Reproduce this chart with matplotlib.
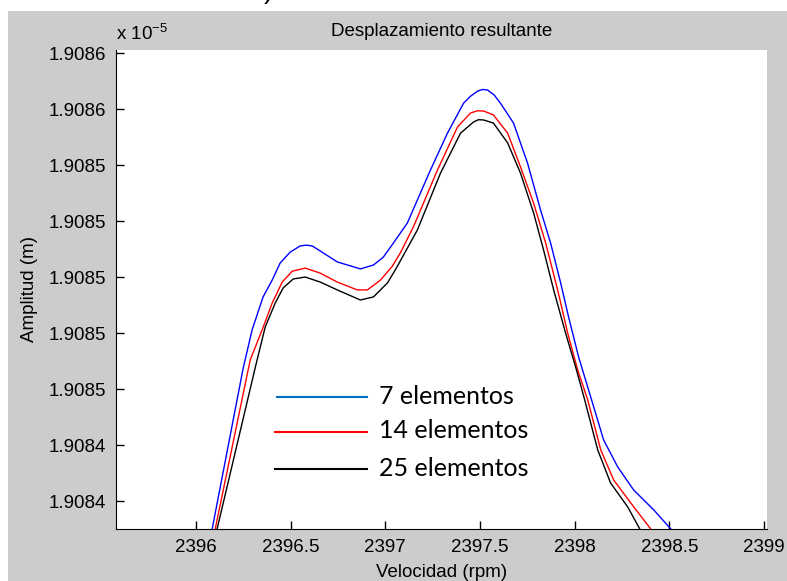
import matplotlib.pyplot as plt
from matplotlib.lines import Line2D
from matplotlib.patches import Rectangle

# Velocidad (rpm) / amplitud (x 1e-5 m) para cada malla
vel_7 = [2396.085, 2396.249, 2396.296, 2396.354, 2396.402, 2396.444, 2396.497, 2396.550,
         2396.582, 2396.614, 2396.672, 2396.746, 2396.868, 2396.937, 2396.989, 2397.042,
         2397.079, 2397.116, 2397.238, 2397.328, 2397.413, 2397.450, 2397.487, 2397.513,
         2397.540, 2397.575, 2397.608, 2397.677, 2397.751, 2397.820, 2397.873, 2397.926,
         2397.968, 2398.021, 2398.085, 2398.153, 2398.228, 2398.312, 2398.418, 2398.508]
amp_7 = [1.9084100, 1.9084675, 1.9084811, 1.9084929, 1.9084989, 1.9085050, 1.9085089, 1.9085111,
         1.9085114, 1.9085111, 1.9085086, 1.9085054, 1.9085029, 1.9085043, 1.9085071, 1.9085121,
         1.9085157, 1.9085193, 1.9085382, 1.9085514, 1.9085621, 1.9085646, 1.9085664, 1.9085670,
         1.9085668, 1.9085650, 1.9085621, 1.9085550, 1.9085407, 1.9085239, 1.9085121, 1.9084979,
         1.9084857, 1.9084714, 1.9084571, 1.9084418, 1.9084321, 1.9084239, 1.9084168, 1.9084100]

vel_14 = [2396.101, 2396.286, 2396.349, 2396.402, 2396.455, 2396.508, 2396.577, 2396.656,
          2396.746, 2396.852, 2396.905, 2396.974, 2397.037, 2397.079, 2397.148, 2397.275,
          2397.381, 2397.450, 2397.487, 2397.519, 2397.571, 2397.646, 2397.714, 2397.783,
          2397.847, 2397.910, 2397.963, 2398.016, 2398.069, 2398.138, 2398.206, 2398.312,
          2398.402]
amp_14 = [1.9084100, 1.9084704, 1.9084811, 1.9084907, 1.9084982, 1.9085021, 1.9085032, 1.9085014,
          1.9084982, 1.9084954, 1.9084954, 1.9084989, 1.9085039, 1.9085086, 1.9085179, 1.9085382,
          1.9085536, 1.9085586, 1.9085594, 1.9085593, 1.9085579, 1.9085514, 1.9085393, 1.9085264,
          1.9085121, 1.9084954, 1.9084800, 1.9084668, 1.9084561, 1.9084382, 1.9084275, 1.9084179,
          1.9084100]

vel_25 = [2396.111, 2396.312, 2396.365, 2396.418, 2396.460, 2396.513, 2396.577, 2396.656,
          2396.746, 2396.868, 2396.937, 2397.011, 2397.058, 2397.169, 2397.291, 2397.397,
          2397.466, 2397.492, 2397.519, 2397.571, 2397.646, 2397.714, 2397.783, 2397.836,
          2397.889, 2397.952, 2398.005, 2398.053, 2398.122, 2398.190, 2398.280, 2398.344]
amp_25 = [1.9084100, 1.9084675, 1.9084821, 1.9084907, 1.9084961, 1.9084993, 1.9085000, 1.9084982,
          1.9084954, 1.9084918, 1.9084929, 1.9084979, 1.9085032, 1.9085168, 1.9085371, 1.9085514,
          1.9085554, 1.9085562, 1.9085561, 1.9085550, 1.9085479, 1.9085371, 1.9085229, 1.9085096,
          1.9084954, 1.9084800, 1.9084679, 1.9084561, 1.9084382, 1.9084264, 1.9084179, 1.9084100]

x_ticks = [2396, 2396.5, 2397, 2397.5, 2398, 2398.5, 2399]
y_ticks = [1.90842, 1.90844, 1.90846, 1.90848, 1.90850, 1.90852, 1.90854, 1.90856, 1.90858]
labels = ['7 elementos', '14 elementos', '25 elementos']

plt.rcParams['font.family'] = 'Liberation Sans'
plt.rcParams['mathtext.fontset'] = 'custom'
plt.rcParams['mathtext.rm'] = 'Liberation Sans'

W, H = 787, 581
fig = plt.figure(figsize=(W / 100, H / 100), dpi=100)
fig.patch.set_facecolor('white')

# fondo gris tipo MATLAB
fig.add_artist(Rectangle((8 / W, 0), 1 - 8 / W, 1 - 11 / H, transform=fig.transFigure,
                         facecolor='#cccccc', edgecolor='none', zorder=0))

ax = fig.add_axes([116 / W, 1 - 529 / H, 651 / W, 479 / H])
ax.set_facecolor('white')

ax.plot(vel_7, amp_7, color='blue', lw=1.0)
ax.plot(vel_14, amp_14, color='red', lw=1.0)
ax.plot(vel_25, amp_25, color='black', lw=1.0)

ax.set_xlim(2395.577, 2399.016)
ax.set_ylim(1.908410, 1.9085811)
ax.set_xticks(x_ticks)
ax.set_xticklabels([f'{t:g}' for t in x_ticks])
ax.set_yticks(y_ticks)
ax.set_yticklabels([f'{t:.4f}' for t in y_ticks])

ax.spines['top'].set_visible(False)
ax.spines['right'].set_visible(False)
ax.tick_params(direction='in', length=6, width=1, labelsize=13.5, pad=7)

ax.set_xlabel('Velocidad (rpm)', fontsize=13.5, labelpad=6)
ax.set_ylabel('Amplitud (m)', fontsize=13.5, labelpad=8)
ax.set_title('Desplazamiento resultante', fontsize=13.5, pad=10)
ax.text(0, 1.012, r'x 10$^{-5}$', transform=ax.transAxes, ha='left', va='bottom', fontsize=13.5)

# leyenda dibujada a mano
leg_colors = ['#0070c0', 'red', 'black']
leg_y = [397, 432, 469]
leg_x0 = [277, 275, 275]
for lab, col, y, x0 in zip(labels, leg_colors, leg_y, leg_x0):
    fig.add_artist(Line2D([x0 / W, 367 / W], [1 - y / H, 1 - y / H], transform=fig.transFigure,
                          color=col, lw=1.5))
    fig.text(379 / W, 1 - (y - 1) / H, lab, family='Lato', fontsize=18, va='center', ha='left')

fig.text(268 / W, 1 + 2 / H, ')', fontsize=20, va='baseline', ha='center')

plt.savefig('out.png', dpi=100)
